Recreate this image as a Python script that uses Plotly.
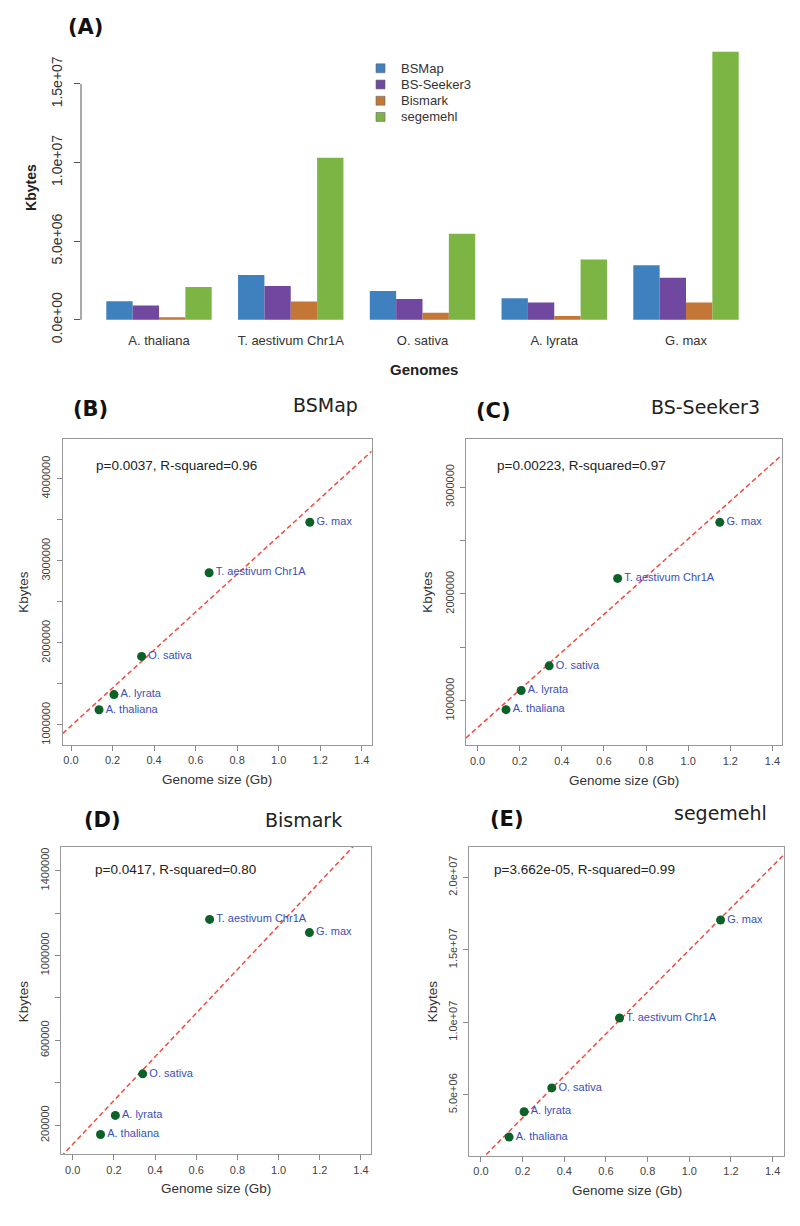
import numpy as np
import plotly.graph_objects as go

# ---------------- data ----------------
genomes = ["A. thaliana", "T. aestivum Chr1A", "O. sativa", "A. lyrata", "G. max"]
genome_size_gb = [0.135, 0.665, 0.34, 0.207, 1.15]

tools = ["BSMap", "BS-Seeker3", "Bismark", "segemehl"]
bsmap = [1185000, 2855000, 1835000, 1370000, 3470000]
bs_seeker3 = [917000, 2145000, 1327000, 1096000, 2670000]
bismark = [156500, 1170000, 442500, 246600, 1108000]
segemehl = [2090000, 10300000, 5480000, 3840000, 17050000]

p_texts = ["p=0.0037, R-squared=0.96", "p=0.00223, R-squared=0.97",
           "p=0.0417, R-squared=0.80", "p=3.662e-05, R-squared=0.99"]
panel_letters = ["(B)", "(C)", "(D)", "(E)"]

bar_ticks = [0, 5e6, 1e7, 1.5e7]
bar_ticktext = ["0.0e+00", "5.0e+06", "1.0e+07", "1.5e+07"]
x_ticks = [0.0, 0.2, 0.4, 0.6, 0.8, 1.0, 1.2, 1.4]
x_ticktext = ["0.0", "0.2", "0.4", "0.6", "0.8", "1.0", "1.2", "1.4"]
y_ticks = {
    "BSMap": ([1e6, 1.5e6, 2e6, 2.5e6, 3e6, 3.5e6, 4e6],
              ["1000000", "", "2000000", "", "3000000", "", "4000000"]),
    "BS-Seeker3": ([1e6, 1.5e6, 2e6, 2.5e6, 3e6],
                   ["1000000", "", "2000000", "", "3000000"]),
    "Bismark": ([2e5, 4e5, 6e5, 8e5, 1e6, 1.2e6, 1.4e6],
                ["200000", "", "600000", "", "1000000", "", "1400000"]),
    "segemehl": ([5e6, 1e7, 1.5e7, 2e7],
                 ["5.0e+06", "1.0e+07", "1.5e+07", "2.0e+07"]),
}

series = [bsmap, bs_seeker3, bismark, segemehl]
colors = ["#3f80bf", "#7048a0", "#c47637", "#7cb544"]

W, H = 800, 1226
def px(x):
    return x / W
def py(y):
    return 1 - y / H

FONT = "Liberation Sans, Arial, sans-serif"
TFONT = "DejaVu Sans, Verdana, sans-serif"

fig = go.Figure()

# ---------------- panel A : grouped bars ----------------
for name, vals, col in zip(tools, series, colors):
    fig.add_trace(go.Bar(x=genomes, y=vals, name=name, marker=dict(color=col, line=dict(width=0)),
                         xaxis="x", yaxis="y", showlegend=False))

ymax = max(max(s) for s in series)

layout_axes = dict(
    xaxis=dict(domain=[px(81), px(764)], type="category", range=[-0.592, 4.592],
               showline=False, ticks="", showgrid=False, zeroline=False, anchor="y",
               tickfont=dict(family=FONT, size=13, color="#333")),
    yaxis=dict(domain=[py(334.1), py(41.4)], range=[-0.04 * ymax, 1.04 * ymax],
               tickvals=bar_ticks, ticktext=bar_ticktext, tickangle=-90,
               ticks="outside", ticklen=6, tickcolor="#555", showline=False,
               showgrid=False, zeroline=False, anchor="x", ticklabelstandoff=6,
               tickfont=dict(family=FONT, size=14, color="#333")),
)

shapes = [dict(type="line", xref="x domain", yref="y", x0=0, x1=0,
               y0=bar_ticks[0], y1=bar_ticks[-1], line=dict(color="#555", width=1))]

annotations = [
    dict(text="<b>(A)</b>", x=px(85), y=py(27), font=dict(family=TFONT, size=21, color="#111")),
    dict(text="<b>Kbytes</b>", x=px(31), y=py(190), textangle=-90,
         font=dict(family=FONT, size=14, color="#222")),
    dict(text="<b>Genomes</b>", x=px(424), y=py(373), font=dict(family=FONT, size=15, color="#222")),
]

# legend (keys + labels) for panel A
leg_x, leg_y0, leg_dy, key = 376, 69, 16.4, 9
for j, (name, col) in enumerate(zip(tools, colors)):
    cy = leg_y0 + j * leg_dy
    shapes.append(dict(type="rect", xref="paper", yref="paper",
                       x0=px(leg_x), x1=px(leg_x + key), y0=py(cy + key / 2), y1=py(cy - key / 2),
                       fillcolor=col, line=dict(color="#666", width=0.6)))
    annotations.append(dict(text=name, x=px(399), y=py(cy), xanchor="left",
                            font=dict(family=FONT, size=13, color="#333")))

# ---------------- scatter panels ----------------
panels = [
    dict(dom=(62.7, 371.7, 443.3, 752.7), xr=[-0.04, 1.448], yr=[0.759e6, 4.49e6],
         letter=(90, 413), title=(325, 409), p=(94, 470), gx=(217, 788), ky=(24, 598)),
    dict(dom=(466, 781.7, 443.3, 753.3), xr=[-0.055, 1.444], yr=[0.583e6, 3.454e6],
         letter=(493, 415), title=(705, 411), p=(495, 470), gx=(624, 789), ky=(428, 598)),
    dict(dom=(61, 371, 855.7, 1166.7), xr=[-0.057, 1.449], yr=[0.0632e6, 1.513e6],
         letter=(102, 829), title=(303, 829), p=(93, 879), gx=(216, 1201), ky=(23, 1012)),
    dict(dom=(469.3, 784.3, 855.7, 1168.3), xr=[-0.056, 1.456], yr=[0.795e6, 22.11e6],
         letter=(507, 828), title=(720, 822), p=(492, 879), gx=(627, 1203), ky=(432, 1012)),
]

x_arr = np.array(genome_size_gb)
for i, (name, vals, pn) in enumerate(zip(tools, series, panels)):
    k = i + 2
    xa, ya = f"x{k}", f"y{k}"
    slope, inter = np.polyfit(x_arr, np.array(vals, dtype=float), 1)
    xr = pn["xr"]
    fig.add_trace(go.Scatter(x=xr, y=[inter + slope * xr[0], inter + slope * xr[1]],
                             mode="lines", line=dict(color="#f04c3e", width=1.5, dash="5px,3px"),
                             xaxis=xa, yaxis=ya, showlegend=False, hoverinfo="skip"))
    fig.add_trace(go.Scatter(x=genome_size_gb, y=vals, mode="markers+text", text=genomes,
                             textposition="middle right",
                             textfont=dict(family=FONT, size=11, color="#3b4fb8"),
                             marker=dict(size=9, color="#0b6127"),
                             xaxis=xa, yaxis=ya, showlegend=False, cliponaxis=False))
    x0, x1, yt, yb = pn["dom"]
    tv, tt = y_ticks[name]
    layout_axes[f"xaxis{k}"] = dict(domain=[px(x0), px(x1)], range=xr, anchor=ya,
                                    tickvals=x_ticks, ticktext=x_ticktext, ticks="outside",
                                    ticklen=5, tickcolor="#888", showline=True, mirror=True,
                                    linecolor="#999", linewidth=1, showgrid=False, zeroline=False,
                                    tickfont=dict(family=FONT, size=11, color="#444"))
    layout_axes[f"yaxis{k}"] = dict(domain=[py(yb), py(yt)], range=pn["yr"], anchor=xa,
                                    tickvals=tv, ticktext=tt, tickangle=-90, ticks="outside",
                                    ticklen=5, tickcolor="#888", showline=True, mirror=True,
                                    linecolor="#999", linewidth=1, showgrid=False, zeroline=False,
                                    ticklabelstandoff=2,
                                    tickfont=dict(family=FONT, size=11, color="#444"))
    annotations += [
        dict(text=f"<b>{panel_letters[i]}</b>", x=px(pn["letter"][0]), y=py(pn["letter"][1]),
             font=dict(family=TFONT, size=21, color="#111")),
        dict(text=name, x=px(pn["title"][0]), y=py(pn["title"][1]),
             font=dict(family=TFONT, size=19, color="#222")),
        dict(text=p_texts[i], x=px(pn["p"][0]), y=py(pn["p"][1]), xanchor="left",
             font=dict(family=FONT, size=13.5, color="#222")),
        dict(text="Genome size (Gb)", x=px(pn["gx"][0]), y=py(pn["gx"][1]),
             font=dict(family=FONT, size=13.5, color="#333")),
        dict(text="Kbytes", x=px(pn["ky"][0]), y=py(pn["ky"][1]), textangle=-90,
             font=dict(family=FONT, size=13.5, color="#333")),
    ]

for a in annotations:
    a.setdefault("xref", "paper")
    a.setdefault("yref", "paper")
    a.setdefault("showarrow", False)
    a.setdefault("xanchor", "center")
    a.setdefault("yanchor", "middle")

fig.update_layout(
    width=W, height=H, margin=dict(l=0, r=0, t=0, b=0),
    paper_bgcolor="white", plot_bgcolor="white",
    barmode="group", bargap=0.2, bargroupgap=0,
    showlegend=False,
    shapes=shapes, annotations=annotations,
    **layout_axes,
)

fig.write_html("out.html")
